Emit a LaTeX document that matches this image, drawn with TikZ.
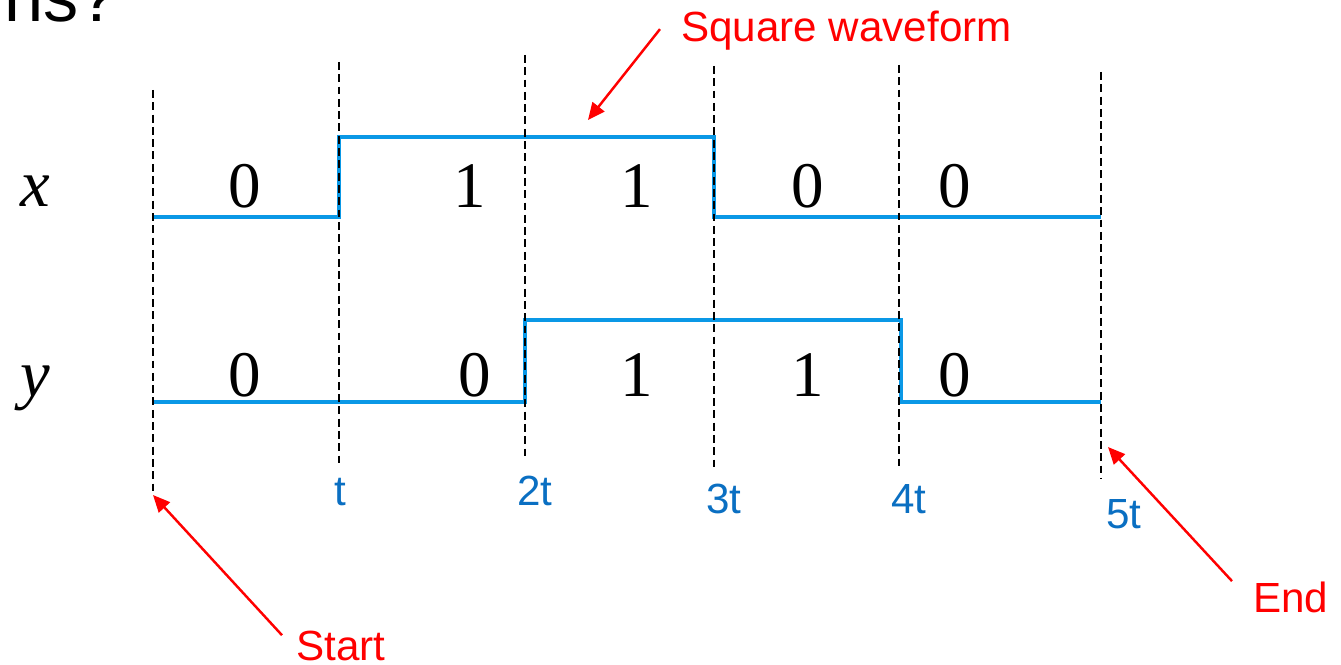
\documentclass[tikz,border=0pt]{standalone}
\usepackage{fontspec}
\setmainfont{Liberation Serif}
\setsansfont{Liberation Sans}
\usetikzlibrary{arrows.meta,positioning,calc}
\definecolor{WaveC}{HTML}{0A98E6}
\definecolor{TickC}{HTML}{0A6FC2}
\definecolor{NoteC}{HTML}{FF0000}

\begin{document}
\begin{tikzpicture}[
  x=0.02cm, y=-0.02cm,
  wave/.style={WaveC, line width=2.3pt},
  guide/.style={black, line width=1pt, dash pattern=on 4.5pt off 2.5pt},
  bit/.style={font=\fontsize{37}{40}\selectfont, anchor=base, inner sep=0pt},
  sig/.style={font=\fontsize{38}{40}\selectfont\itshape, anchor=base, inner sep=0pt},
  tlbl/.style={font=\sffamily\fontsize{24}{26}\selectfont, TickC, anchor=base, inner sep=0pt},
  callnote/.style={font=\sffamily\fontsize{24}{26}\selectfont, NoteC, anchor=base west, inner sep=0pt},
  callout/.style={-{Triangle[length=3.4mm,width=3mm]}, NoteC, line width=1.4pt}
]
\useasboundingbox (0,0) rectangle (1341,665);
% cut-off heading
\node[font=\sffamily\fontsize{40}{44}\selectfont, anchor=base west, inner sep=0pt] (head) at (4,22) {ns?};

% waveforms
\draw[wave] (153,217) -- (339,217) -- (339,137) -- (714,137) -- (714,217) -- (1101,217);
\draw[wave] (153,402) -- (525,402) -- (525,320) -- (901,320) -- (901,402) -- (1101,402);

% time marks
\foreach \xx/\top/\bot [count=\i] in {153/90/493, 339/62/465, 525/55/460, 714/66/470, 899/65/470, 1101/72/478}
  \draw[guide] (\xx,\top) -- (\xx,\bot) coordinate (mark\i);

\node[sig] (xsig) at (35,207) {x};
\node[sig] (ysig) at (35,396) {y};
\foreach \xx/\b [count=\i] in {245/0, 470/1, 637/1, 808/0, 955/0}
  \node[bit] (xbit\i) at (\xx,208) {\b};
\foreach \xx/\b [count=\i] in {245/0, 475/0, 637/1, 808/1, 955/0}
  \node[bit] (ybit\i) at (\xx,396) {\b};

\node[tlbl] (t1) at (340,505) {t};
\node[tlbl] (t2) at (535,505) {2t};
\node[tlbl] (t3) at (724,513) {3t};
\node[tlbl] (t4) at (909,513) {4t};
\node[tlbl] (t5) at (1124,528) {5t};

% notes
\node[callnote] (wavenote) at (681,42) {Square waveform};
\node[callnote] (startnote) at (296,660) {Start};
\node[callnote] (endnote) at (1253,612) {End};
\coordinate (wavetip) at (588,120);
\coordinate (starttip) at (153,495);
\coordinate (endtip) at (1108,447);

\draw[callout] ($(wavenote.west)+(-21,-2)$) -- (wavetip);
\draw[callout] ($(startnote.north west)+(-14,5)$) -- (starttip);
\draw[callout] ($(endnote.north west)+(-21,0)$) -- (endtip);
\end{tikzpicture}
\end{document}
